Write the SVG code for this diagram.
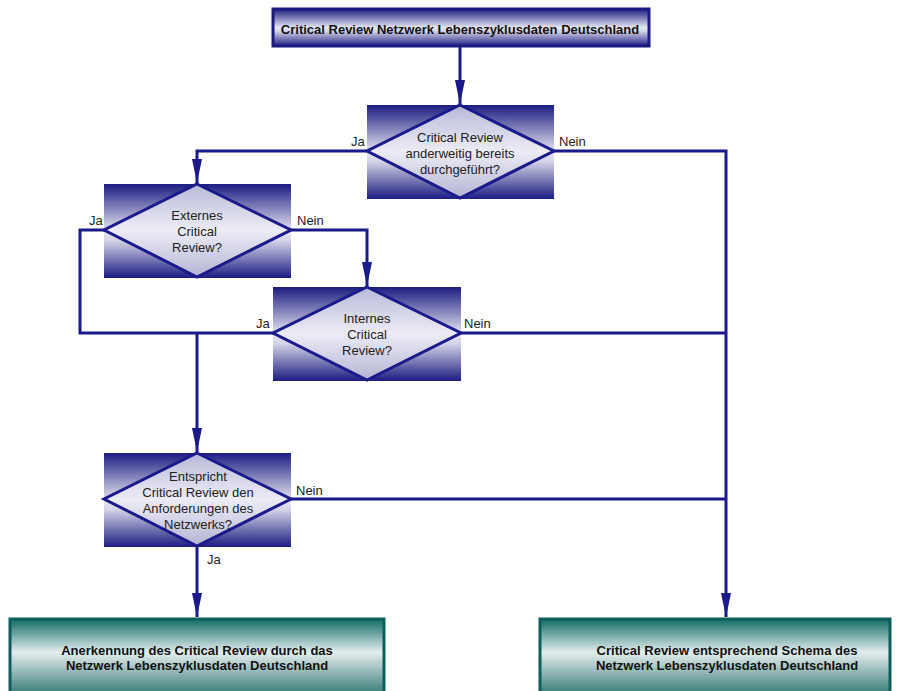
<svg xmlns="http://www.w3.org/2000/svg" width="901" height="691" viewBox="0 0 901 691">
<defs>
<linearGradient id="gBlue" x1="0" y1="0" x2="0" y2="1">
<stop offset="0" stop-color="#1c1c82"/>
<stop offset="0.5" stop-color="#e6e6f2"/>
<stop offset="0.6" stop-color="#d4d4e8"/>
<stop offset="1" stop-color="#1c1c82"/>
</linearGradient>
<linearGradient id="gDia" x1="0" y1="0" x2="0" y2="1">
<stop offset="0" stop-color="#b8b8d8"/>
<stop offset="0.5" stop-color="#ececf6"/>
<stop offset="1" stop-color="#b4b4d4"/>
</linearGradient>
<linearGradient id="gTeal" x1="0" y1="0" x2="0" y2="1">
<stop offset="0" stop-color="#0f6a65"/>
<stop offset="0.45" stop-color="#e4eeee"/>
<stop offset="1" stop-color="#3c7e7a"/>
</linearGradient>
<marker id="arr" markerWidth="24" markerHeight="10" refX="24" refY="5" orient="auto" markerUnits="userSpaceOnUse">
<path d="M0,0 L24,5 L0,10 Z" fill="#1a1a8a"/>
</marker>
<style>
.box{fill:url(#gBlue);stroke:#1a1a80;stroke-width:3}
.bg{fill:url(#gBlue);stroke:none}
.dia{fill:url(#gDia);stroke:#1a1a8a;stroke-width:3;stroke-linejoin:miter}
.teal{fill:url(#gTeal);stroke:#0d5e5a;stroke-width:3}
.c{fill:none;stroke:#1a1a8a;stroke-width:3}
.t{font-family:"Liberation Sans",Arial,sans-serif;font-size:13px;fill:#222;text-anchor:middle}
.tb{font-family:"Liberation Sans",Arial,sans-serif;font-size:13px;font-weight:bold;fill:#111;text-anchor:middle}
.tb2{font-family:"Liberation Sans",Arial,sans-serif;font-size:13px;font-weight:bold;fill:#111;text-anchor:middle}
.l{font-family:"Liberation Sans",Arial,sans-serif;font-size:13px;fill:#222}
</style>
</defs>
<rect width="901" height="691" fill="#ffffff"/>

<g id="connectors">
<path class="c" d="M460,47 L460,104" marker-end="url(#arr)"/>
<path class="c" d="M367,151 L197,151 L197,183" marker-end="url(#arr)"/>
<path class="c" d="M553,151 L726,151 L726,617" marker-end="url(#arr)"/>
<path class="c" d="M104,230 L80,230 L80,333 L273,333"/>
<path class="c" d="M291,230 L367,230 L367,286" marker-end="url(#arr)"/>
<path class="c" d="M197,333 L197,452" marker-end="url(#arr)"/>
<path class="c" d="M460,333 L726,333"/>
<path class="c" d="M291,499 L726,499"/>
<path class="c" d="M197,546 L197,617" marker-end="url(#arr)"/>
<text class="l" x="351" y="146">Ja</text>
<text class="l" x="559" y="146">Nein</text>
<text class="l" x="89" y="225">Ja</text>
<text class="l" x="297" y="225">Nein</text>
<text class="l" x="256" y="328">Ja</text>
<text class="l" x="464" y="328">Nein</text>
<text class="l" x="296" y="495">Nein</text>
<text class="l" x="207" y="564">Ja</text>
</g>

<g id="start">
<rect class="box" x="273" y="9" width="376" height="37"/>
<text class="tb" x="460" y="34">Critical Review Netzwerk Lebenszyklusdaten Deutschland</text>
</g>

<g id="d1">
<rect class="bg" x="367" y="105" width="187" height="94"/>
<polygon class="dia" points="460,105 554,151 460,198 367,151"/>
<text class="t" x="460" y="142">Critical Review</text>
<text class="t" x="460" y="158">anderweitig bereits</text>
<text class="t" x="460" y="174">durchgeführt?</text>
</g>

<g id="d2">
<rect class="bg" x="104" y="184" width="187" height="94"/>
<polygon class="dia" points="197,184 291,230 197,277 104,230"/>
<text class="t" x="197" y="220">Externes</text>
<text class="t" x="197" y="236">Critical</text>
<text class="t" x="197" y="252">Review?</text>
</g>

<g id="d3">
<rect class="bg" x="273" y="287" width="188" height="94"/>
<polygon class="dia" points="367,287 461,333 367,380 273,333"/>
<text class="t" x="367" y="323">Internes</text>
<text class="t" x="367" y="339">Critical</text>
<text class="t" x="367" y="355">Review?</text>
</g>

<g id="d4">
<rect class="bg" x="104" y="453" width="187" height="94"/>
<polygon class="dia" points="197,453 291,499 197,546 104,499"/>
<text class="t" x="198" y="481">Entspricht</text>
<text class="t" x="198" y="497">Critical Review den</text>
<text class="t" x="198" y="513">Anforderungen des</text>
<text class="t" x="198" y="529">Netzwerks?</text>
</g>

<g id="endLeft">
<rect class="teal" x="10" y="619" width="374" height="74"/>
<text class="tb2" x="197" y="655">Anerkennung des Critical Review durch das</text>
<text class="tb2" x="197" y="670">Netzwerk Lebenszyklusdaten Deutschland</text>
</g>

<g id="endRight">
<rect class="teal" x="540" y="619" width="350" height="74"/>
<text class="tb2" x="727" y="655">Critical Review entsprechend Schema des</text>
<text class="tb2" x="727" y="670">Netzwerk Lebenszyklusdaten Deutschland</text>
</g>
</svg>
